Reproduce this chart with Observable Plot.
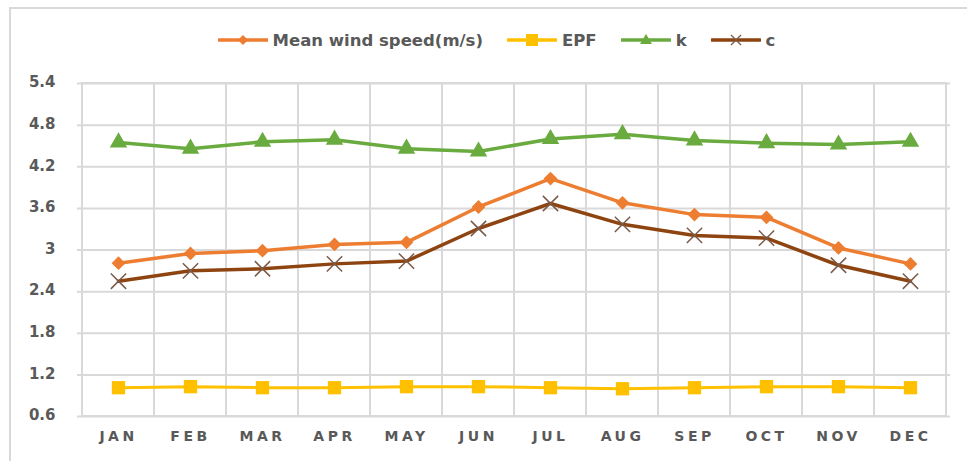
<!DOCTYPE html>
<html>
<head>
<meta charset="utf-8">
<script src="https://cdn.jsdelivr.net/npm/d3@7"></script>
<script src="https://cdn.jsdelivr.net/npm/@observablehq/plot@0.6"></script>
<style>
  html, body { margin: 0; padding: 0; background: #fff; }
  #wrap { position: relative; width: 967px; height: 461px; overflow: hidden; background: #fff; }
  #frame { position: absolute; left: 9px; top: 7px; width: 975px; height: 470px; border: 2px solid #d9d9d9; box-sizing: border-box; }
  #legend { position: absolute; left: 13px; top: 28px; width: 967px; height: 24px; display: flex; justify-content: center; align-items: center;
            font-family: "DejaVu Sans", sans-serif; font-weight: bold; font-size: 16.5px; color: #595959; }
  .item { display: flex; align-items: center; margin: 0 12px; }
  .item svg { margin-right: 5px; }
  #chart { position: absolute; left: 0; top: 60px; }
  #chart g[aria-label="x-axis tick label"] text { letter-spacing: 3.5px; }
</style>
</head>
<body>
<div id="wrap">
  <div id="frame"></div>
  <div id="legend"></div>
  <div id="chart"></div>
</div>
<script>
const months = ["JAN","FEB","MAR","APR","MAY","JUN","JUL","AUG","SEP","OCT","NOV","DEC"];
const meanWind = [2.81, 2.95, 2.99, 3.08, 3.11, 3.62, 4.03, 3.68, 3.51, 3.47, 3.03, 2.80];
const epf      = [1.015, 1.03, 1.015, 1.015, 1.03, 1.03, 1.015, 1.00, 1.015, 1.03, 1.03, 1.015];
const kVals    = [4.55, 4.46, 4.56, 4.59, 4.46, 4.42, 4.60, 4.67, 4.58, 4.54, 4.52, 4.56];
const cVals    = [2.55, 2.70, 2.73, 2.80, 2.84, 3.31, 3.67, 3.37, 3.21, 3.17, 2.78, 2.55];
const yTicks   = [0.6, 1.2, 1.8, 2.4, 3, 3.6, 4.2, 4.8, 5.4];
const seriesNames = ["Mean wind speed(m/s)", "EPF", "k", "c"];

const colors = { "Mean wind speed(m/s)": "#ED7D31", "EPF": "#FFC000", "k": "#6AAB3F", "c": "#8E4410" };
const valuesBy = { "Mean wind speed(m/s)": meanWind, "EPF": epf, "k": kVals, "c": cVals };

const data = [];
for (const s of seriesNames) months.forEach((m, i) => data.push({ series: s, month: m, value: valuesBy[s][i] }));
const sel = s => data.filter(d => d.series === s);

const chart = Plot.plot({
  width: 967,
  height: 401,
  marginLeft: 77,
  marginRight: 17,
  marginTop: 23,
  marginBottom: 45,
  style: { fontFamily: "DejaVu Sans, sans-serif", background: "transparent", overflow: "visible" },
  x: { type: "band", domain: months, padding: 0, label: null },
  y: { domain: [0.6, 5.4], label: null },
  marks: [
    Plot.ruleY(yTicks, { stroke: "#d9d9d9", strokeWidth: 2 }),
    Plot.barY(months, { x: d => d, y1: 0.6, y2: 5.4, fill: "none", stroke: "#d9d9d9", strokeWidth: 2 }),
    Plot.axisY({ ticks: yTicks, tickSize: 0, tickPadding: 22, fontSize: 15, fontWeight: "bold", fill: "#595959",
                 tickFormat: d => String(d), dy: -1, label: null }),
    Plot.axisX({ tickSize: 0, tickPadding: 15, fontSize: 14, fontWeight: "bold", fill: "#595959", dx: 0, label: null }),
    Plot.line(sel("EPF"), { x: "month", y: "value", stroke: colors["EPF"], strokeWidth: 3 }),
    Plot.dot(sel("EPF"), { x: "month", y: "value", symbol: "square", fill: colors["EPF"], r: 7.5 }),
    Plot.line(sel("k"), { x: "month", y: "value", stroke: colors["k"], strokeWidth: 3.5 }),
    Plot.dot(sel("k"), { x: "month", y: "value", symbol: "triangle", fill: colors["k"], r: 6.5 }),
    Plot.line(sel("Mean wind speed(m/s)"), { x: "month", y: "value", stroke: colors["Mean wind speed(m/s)"], strokeWidth: 3.5 }),
    Plot.dot(sel("Mean wind speed(m/s)"), { x: "month", y: "value", symbol: "square", rotate: 45, fill: colors["Mean wind speed(m/s)"], r: 5.5 }),
    Plot.line(sel("c"), { x: "month", y: "value", stroke: colors["c"], strokeWidth: 3.5 }),
    Plot.dot(sel("c"), { x: "month", y: "value", symbol: "times", stroke: "#7a5a48", strokeWidth: 1.5, r: 7 })
  ]
});
document.getElementById("chart").appendChild(chart);

// legend
const legend = document.getElementById("legend");
const markerSvg = {
  "Mean wind speed(m/s)": c => `<polygon points="25,1 30,6 25,11 20,6" fill="${c}"/>`,
  "EPF": c => `<rect x="19" y="0" width="12" height="12" fill="${c}"/>`,
  "k": c => `<polygon points="25,0 31,10 19,10" fill="${c}"/>`,
  "c": c => `<path d="M20,1 L30,11 M30,1 L20,11" stroke="#7a5a48" stroke-width="1.3"/>`
};
for (const s of seriesNames) {
  const c = colors[s];
  const el = document.createElement("div");
  el.className = "item";
  el.innerHTML = `<svg width="50" height="12"><line x1="1" y1="6" x2="49" y2="6" stroke="${c}" stroke-width="3.5" stroke-linecap="round"/>${markerSvg[s](c)}</svg><span>${s}</span>`;
  legend.appendChild(el);
}
</script>
</body>
</html>
